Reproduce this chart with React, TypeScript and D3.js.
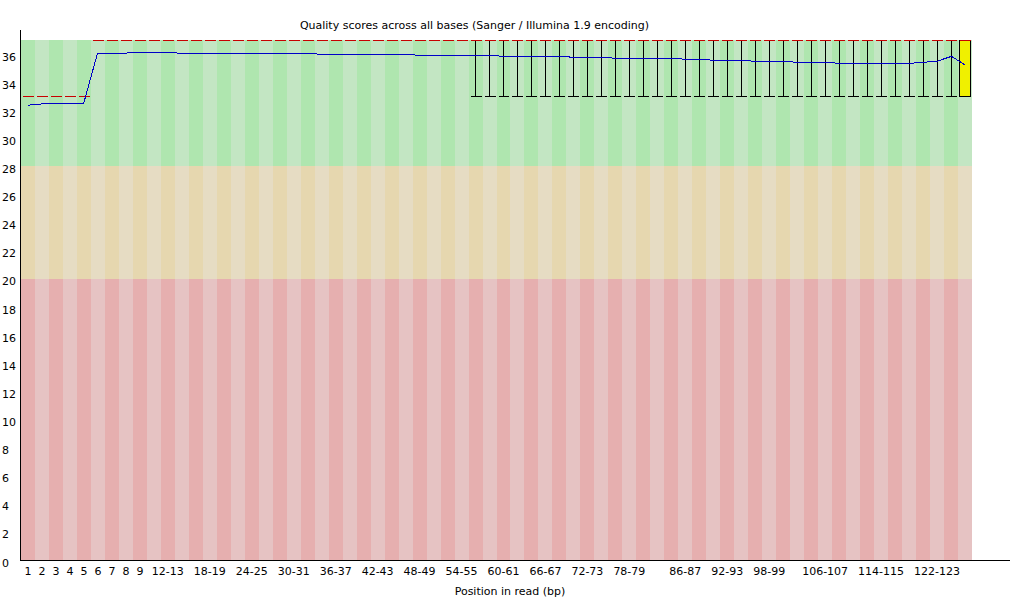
import React from 'react';
import * as d3 from 'd3';

const groups: string[] = [
  '1', '2', '3', '4', '5', '6', '7', '8', '9',
  '10-11', '12-13', '14-15', '16-17', '18-19', '20-21', '22-23', '24-25', '26-27', '28-29',
  '30-31', '32-33', '34-35', '36-37', '38-39', '40-41', '42-43', '44-45', '46-47', '48-49',
  '50-51', '52-53', '54-55', '56-57', '58-59', '60-61', '62-63', '64-65', '66-67', '68-69',
  '70-71', '72-73', '74-75', '76-77', '78-79', '80-81', '82-83', '84-85', '86-87', '88-89',
  '90-91', '92-93', '94-95', '96-97', '98-99', '100-101', '102-103', '104-105', '106-107', '108-109',
  '110-111', '112-113', '114-115', '116-117', '118-119', '120-121', '122-123', '124-125', '126-127',
];

const shownLabels: string[] = [
  '1', '2', '3', '4', '5', '6', '7', '8', '9', '12-13', '18-19', '24-25', '30-31', '36-37',
  '42-43', '48-49', '54-55', '60-61', '66-67', '72-73', '78-79', '86-87', '92-93', '98-99',
  '106-107', '114-115', '122-123',
];

const means: number[] = [
  32.36, 32.45, 32.45, 32.45, 32.45, 36.05, 36.06, 36.07, 36.12, 36.12,
  36.12, 36.05, 36.05, 36.05, 36.05, 36.05, 36.05, 36.05, 36.05, 36.05,
  36.05, 35.98, 35.98, 35.98, 35.98, 35.98, 35.98, 35.98, 35.91, 35.91,
  35.91, 35.91, 35.91, 35.91, 35.84, 35.84, 35.84, 35.84, 35.84, 35.77,
  35.77, 35.77, 35.70, 35.70, 35.70, 35.70, 35.70, 35.63, 35.63, 35.56,
  35.56, 35.56, 35.48, 35.48, 35.48, 35.41, 35.41, 35.41, 35.34, 35.34,
  35.34, 35.34, 35.34, 35.34, 35.41, 35.50, 35.84, 35.20,
];

const medians: number[] = [
  33, 33, 33, 33, 33, 37, 37, 37, 37, 37, 37, 37, 37, 37, 37, 37, 37,
  37, 37, 37, 37, 37, 37, 37, 37, 37, 37, 37, 37, 37, 37, 37, 37, 37,
  37, 37, 37, 37, 37, 37, 37, 37, 37, 37, 37, 37, 37, 37, 37, 37, 37,
  37, 37, 37, 37, 37, 37, 37, 37, 37, 37, 37, 37, 37, 37, 37, 37, 37,
];

const lowerQuartile: number[] = [
  33, 33, 33, 33, 33, 37, 37, 37, 37, 37, 37, 37, 37, 37, 37, 37, 37,
  37, 37, 37, 37, 37, 37, 37, 37, 37, 37, 37, 37, 37, 37, 37, 37, 37,
  37, 37, 37, 37, 37, 37, 37, 37, 37, 37, 37, 37, 37, 37, 37, 37, 37,
  37, 37, 37, 37, 37, 37, 37, 37, 37, 37, 37, 37, 37, 37, 37, 37, 33,
];

const upperQuartile: number[] = [
  33, 33, 33, 33, 33, 37, 37, 37, 37, 37, 37, 37, 37, 37, 37, 37, 37,
  37, 37, 37, 37, 37, 37, 37, 37, 37, 37, 37, 37, 37, 37, 37, 37, 37,
  37, 37, 37, 37, 37, 37, 37, 37, 37, 37, 37, 37, 37, 37, 37, 37, 37,
  37, 37, 37, 37, 37, 37, 37, 37, 37, 37, 37, 37, 37, 37, 37, 37, 37,
];

const percentile10: number[] = [
  33, 33, 33, 33, 33, 37, 37, 37, 37, 37, 37, 37, 37, 37, 37, 37, 37,
  37, 37, 37, 37, 37, 37, 37, 37, 37, 37, 37, 37, 37, 37, 37, 33, 33,
  33, 33, 33, 33, 33, 33, 33, 33, 33, 33, 33, 33, 33, 33, 33, 33, 33,
  33, 33, 33, 33, 33, 33, 33, 33, 33, 33, 33, 33, 33, 33, 33, 33, 33,
];

const percentile90: number[] = [
  33, 33, 33, 33, 33, 37, 37, 37, 37, 37, 37, 37, 37, 37, 37, 37, 37,
  37, 37, 37, 37, 37, 37, 37, 37, 37, 37, 37, 37, 37, 37, 37, 37, 37,
  37, 37, 37, 37, 37, 37, 37, 37, 37, 37, 37, 37, 37, 37, 37, 37, 37,
  37, 37, 37, 37, 37, 37, 37, 37, 37, 37, 37, 37, 37, 37, 37, 37, 37,
];

const yTicks: number[] = [0, 2, 4, 6, 8, 10, 12, 14, 16, 18, 20, 22, 24, 26, 28, 30, 32, 34, 36];

const bands = [
  { from: 28, to: 37, light: 'rgb(195,230,195)', dark: 'rgb(175,230,175)' },
  { from: 20, to: 28, light: 'rgb(230,220,195)', dark: 'rgb(230,215,175)' },
  { from: 0, to: 20, light: 'rgb(230,195,195)', dark: 'rgb(230,175,175)' },
];

const W = 1020;
const H = 600;
const FONT = 'DejaVu Sans';

export default function App() {
  const x = d3.scaleBand<string>().domain(groups).range([21, 972]).paddingInner(0).paddingOuter(0);
  const y = d3.scaleLinear().domain([0, 37]).range([560, 40]);
  const bw = x.bandwidth();
  const yi = (v: number) => Math.round(y(v));

  const line = d3
    .line<number>()
    .x((_, i) => Math.floor(x(groups[i])! + bw / 2) + 0.5)
    .y((d) => y(d));

  return (
    <svg
      width={W}
      height={H}
      style={{ position: 'absolute', left: 0, top: 0, display: 'block', background: '#fff' }}
      fontFamily={FONT}
    >
      <rect x={0} y={0} width={W} height={H} fill="#fff" />
      {/* background stripes */}
      {groups.map((g, i) =>
        bands.map((b, j) => (
          <rect
            key={`s${i}-${j}`}
            x={x(g)!}
            y={y(b.to)}
            width={bw + 0.3}
            height={y(b.from) - y(b.to)}
            fill={i % 2 === 0 ? b.dark : b.light}
            shapeRendering="crispEdges"
          />
        ))
      )}
      {/* box plots */}
      {groups.map((g, i) => {
        const x0 = x(g)!;
        const left = Math.round(x0) + 2;
        const right = Math.round(x0 + bw) - 2;
        const cx = Math.floor(x0 + bw / 2) + 0.5;
        const top = yi(upperQuartile[i]);
        const bot = yi(lowerQuartile[i]);
        return (
          <g key={`b${i}`} shapeRendering="crispEdges">
            {percentile90[i] !== percentile10[i] && (
              <line x1={cx} x2={cx} y1={yi(percentile90[i])} y2={yi(percentile10[i])} stroke="#000" />
            )}
            {bot > top ? (
              <rect
                x={left - 0.5}
                y={top + 0.5}
                width={right - left + 1}
                height={bot - top}
                fill="rgb(240,240,0)"
                stroke="#000"
              />
            ) : (
              <line x1={left} x2={right + 1} y1={top + 0.5} y2={top + 0.5} stroke="#000" />
            )}
            <line x1={left} x2={right + 1} y1={yi(percentile10[i]) + 0.5} y2={yi(percentile10[i]) + 0.5} stroke="#000" />
            <line x1={left} x2={right + 1} y1={yi(percentile90[i]) + 0.5} y2={yi(percentile90[i]) + 0.5} stroke="#000" />
            <line x1={left} x2={right + 1} y1={yi(medians[i]) + 0.5} y2={yi(medians[i]) + 0.5} stroke="rgb(200,0,0)" />
          </g>
        );
      })}
      {/* mean line */}
      <path d={line(means) || ''} fill="none" stroke="rgb(0,0,200)" strokeWidth={1} shapeRendering="crispEdges" />
      {/* axes */}
      <line x1={20.5} x2={20.5} y1={30} y2={560} stroke="#000" shapeRendering="crispEdges" />
      <line x1={20} x2={1010} y1={560.5} y2={560.5} stroke="#000" shapeRendering="crispEdges" />
      {yTicks.map((t) => (
        <text key={`y${t}`} x={2} y={y(t) + 6.5} fontSize={11} fill="#000">
          {t}
        </text>
      ))}
      {shownLabels.map((l) => (
        <text key={`x${l}`} x={x(l)! + bw / 2} y={575} fontSize={11} textAnchor="middle" fill="#000">
          {l}
        </text>
      ))}
      <text x={474.5} y={29} fontSize={11} textAnchor="middle" fill="#000">
        Quality scores across all bases (Sanger / Illumina 1.9 encoding)
      </text>
      <text x={510} y={595} fontSize={11} textAnchor="middle" fill="#000">
        Position in read (bp)
      </text>
    </svg>
  );
}
